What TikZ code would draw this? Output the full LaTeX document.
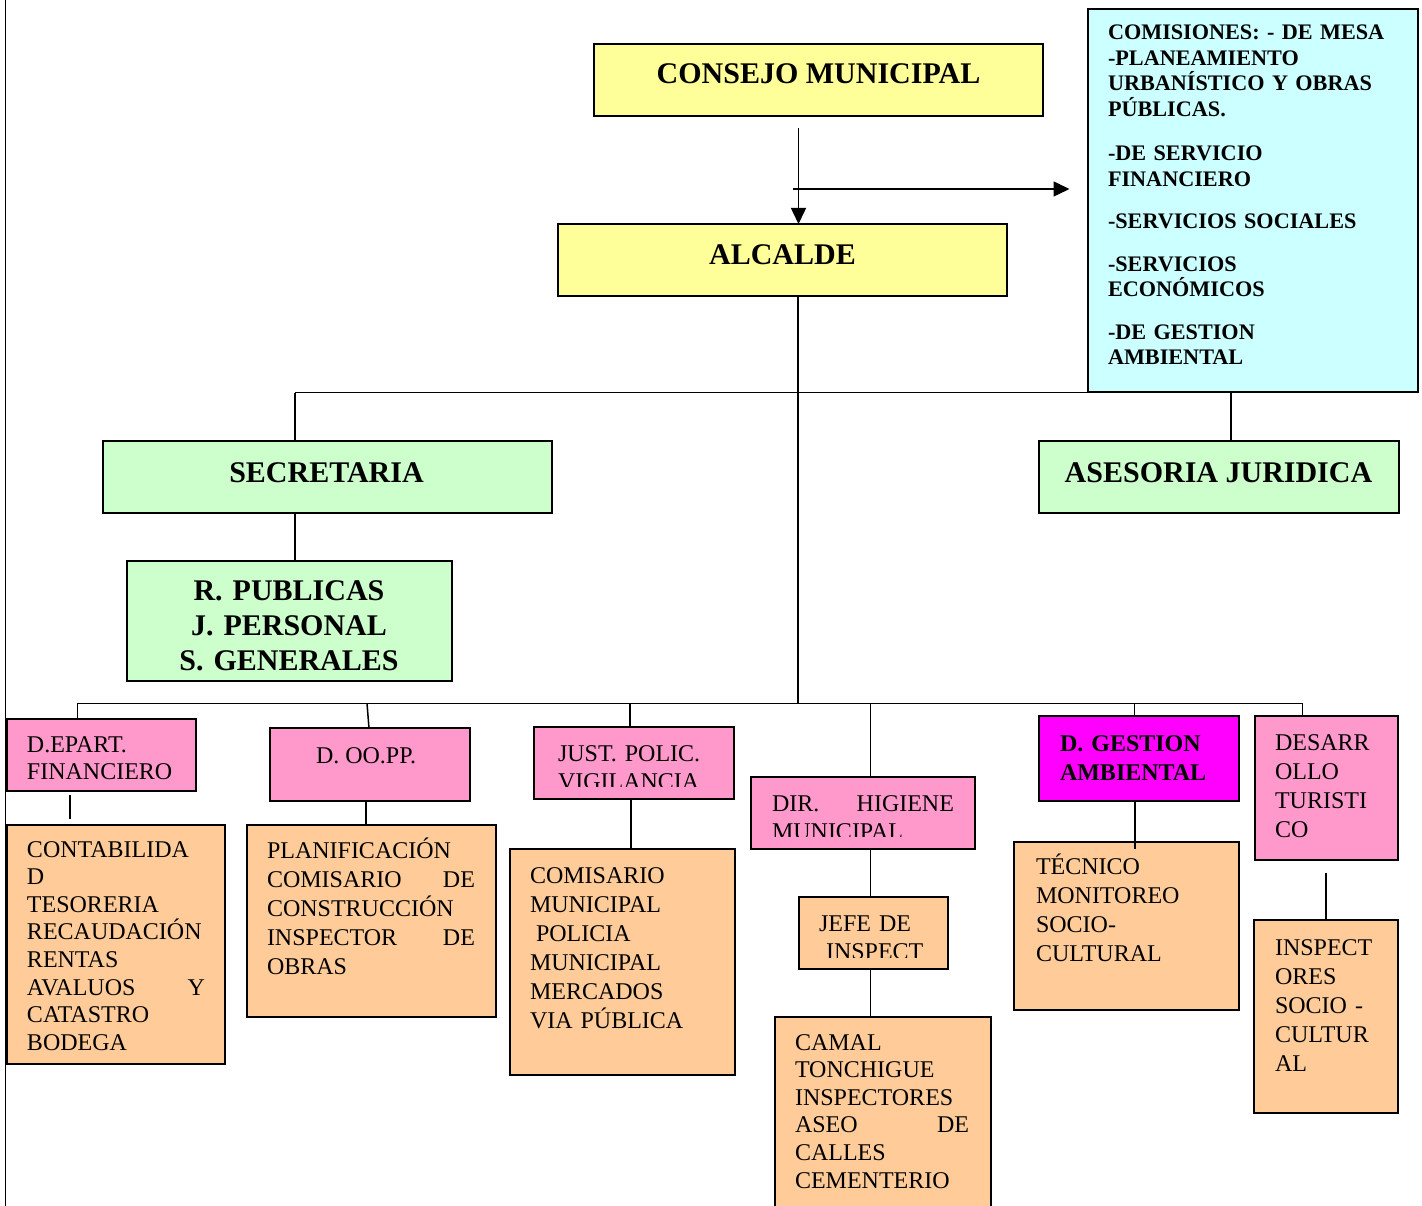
\documentclass[tikz,border=0pt]{standalone}
\usepackage{fontspec}
\setmainfont{Liberation Serif}
\usetikzlibrary{arrows.meta}
\definecolor{cyel}{HTML}{FFFF99}
\definecolor{ccya}{HTML}{CCFFFF}
\definecolor{cgrn}{HTML}{CCFFCC}
\definecolor{cpnk}{HTML}{FF99CC}
\definecolor{cmag}{HTML}{FF00FF}
\definecolor{corg}{HTML}{FFCC99}
\newcommand{\fntHd}{\fontsize{30}{35}\bfseries\selectfont}
\newcommand{\fntCom}{\fontsize{22.2}{25.5}\bfseries\selectfont}
\newcommand{\fntA}{\fontsize{24}{27.6}\selectfont}
\newcommand{\fntB}{\fontsize{24}{29}\selectfont}
\newcommand{\fntC}{\fontsize{24}{28}\selectfont}
\newcommand{\fntGB}{\fontsize{24}{29}\bfseries\selectfont}
\newcommand{\mkbox}[6]{\node[orgbox, fill=#2, minimum width={#5pt-#3pt}, minimum height={#6pt-#4pt}] (#1) at (#3,#4) {};}
\tikzset{
  orgbox/.style={draw=black, line width=2pt, anchor=north west, inner sep=0pt, outer sep=0pt},
  txt/.style={inner sep=0pt, outer sep=0pt, anchor=base west, align=left},
  ctxt/.style={inner sep=0pt, outer sep=0pt, anchor=base, align=center},
  conn/.style={line width=1.5pt, draw=black},
  arr/.style={conn, -{Triangle[length=16pt,width=15pt]}},
}
\begin{document}
\begin{tikzpicture}[x=1pt,y=-1pt]
\useasboundingbox (0,0) rectangle (1422,1206);
% page border line
\coordinate (pl1) at (5.3,0); \coordinate (pl2) at (5.3,1206);
\draw[conn] (pl1) -- (pl2);

% boxes
\mkbox{consejo}{cyel}{594}{44}{1043}{116.5}
\mkbox{alcalde}{cyel}{558}{224}{1007}{296.5}
\mkbox{comis}{ccya}{1088}{9}{1418}{391.5}
\mkbox{secre}{cgrn}{102.5}{441}{552}{513}
\mkbox{ases}{cgrn}{1038.5}{441}{1399}{513}
\mkbox{rpub}{cgrn}{126.5}{561}{452}{681}
\mkbox{dep1}{cpnk}{6.5}{719}{195.5}{790.7}
\mkbox{doo}{cpnk}{270}{728.3}{470}{800.5}
\mkbox{just}{cpnk}{534}{726.7}{734}{798.5}
\mkbox{dir}{cpnk}{751}{777.3}{975}{849}
\mkbox{gest}{cmag}{1039.3}{716}{1239}{800.5}
\mkbox{desa}{cpnk}{1255}{716}{1398.3}{860}
\mkbox{conta}{corg}{6.7}{825}{225.3}{1064.3}
\mkbox{plan}{corg}{246.7}{825}{496}{1016.7}
\mkbox{comisario}{corg}{510}{848.7}{735.3}{1075}
\mkbox{jefe}{corg}{798.7}{896.7}{948.3}{968.7}
\mkbox{camal}{corg}{775}{1017.3}{990.7}{1216}
\mkbox{tecnico}{corg}{1014.3}{841.7}{1239.3}{1010}
\mkbox{insp}{corg}{1254}{920}{1398.3}{1112.7}

% texts
\node[ctxt, font=\fntHd] (tconsejo) at (818.5,84) {CONSEJO MUNICIPAL};
\node[ctxt, font=\fntHd] (talcalde) at (782.5,265) {ALCALDE};
\node[ctxt, font=\fntHd] (tsecre) at (326.5,482) {SECRETARIA};
\node[ctxt, font=\fntHd] (tases) at (1218.5,482) {ASESORIA JURIDICA};
\node[ctxt, font=\fntHd, text width=300pt] (trpub) at (289,600) {R. PUBLICAS\\J. PERSONAL\\S. GENERALES};
\node[txt, font=\fntCom, text width=305pt] (tcomis) at (1108,40) {COMISIONES: - DE MESA\\-PLANEAMIENTO\\URBANÍSTICO Y OBRAS\\PÚBLICAS.\\[19pt]-DE SERVICIO\\FINANCIERO\\[17pt]-SERVICIOS SOCIALES\\[17pt]-SERVICIOS\\ECONÓMICOS\\[17pt]-DE GESTION\\AMBIENTAL};
\node[txt, font=\fntA, text width=165pt] (tdep1) at (27,752) {D.EPART.\\FINANCIERO};
\node[txt, font=\fntA, text width=178pt] (tconta) at (27,857) {CONTABILIDA\\D\\TESORERIA\\RECAUDACIÓN\\RENTAS\\AVALUOS\hfill Y\\CATASTRO\\BODEGA};
\node[txt, font=\fntA] (tdoo) at (316,763) {D. OO.PP.};
\node[txt, font=\fntB, text width=208pt] (tplan) at (267,858) {PLANIFICACIÓN\\COMISARIO\hfill DE\\CONSTRUCCIÓN\\INSPECTOR\hfill DE\\OBRAS};
\begin{scope}
  \clip (just.north west) rectangle ([yshift=12pt]just.south east);
  \node[txt, font=\fntC, text width=180pt] (tjust) at (558,761) {JUST. POLIC.\\VIGILANCIA};
\end{scope}
\node[txt, font=\fntB, text width=200pt] (tcomisario) at (530,883) {COMISARIO\\MUNICIPAL\\\hspace*{6pt}POLICIA\\MUNICIPAL\\MERCADOS\\VIA PÚBLICA};
\begin{scope}
  \clip (dir.north west) rectangle ([yshift=12.5pt]dir.south east);
  \node[txt, font=\fntC, text width=182pt] (tdir) at (772,811) {DIR.\hfill HIGIENE\\MUNICIPAL};
\end{scope}
\begin{scope}
  \clip (jefe.north west) rectangle ([yshift=11.5pt]jefe.south east);
  \node[txt, font=\fntC, text width=125pt] (tjefe) at (819,931) {JEFE DE\\\hspace*{7pt}INSPECT};
\end{scope}
\node[txt, font=\fntA, text width=174pt] (tcamal) at (795,1050) {CAMAL\\TONCHIGUE\\INSPECTORES\\ASEO\hfill DE\\CALLES\\CEMENTERIO};
\node[txt, font=\fntGB, text width=175pt] (tgest) at (1060,751) {D. GESTION\\AMBIENTAL};
\node[txt, font=\fntB, text width=195pt] (ttecnico) at (1036,874) {TÉCNICO\\MONITOREO\\SOCIO-\\CULTURAL};
\node[txt, font=\fntB, text width=120pt] (tdesa) at (1275,750) {DESARR\\OLLO\\TURISTI\\CO};
\node[txt, font=\fntB, text width=120pt] (tinsp) at (1275,955) {INSPECT\\ORES\\SOCIO -\\CULTUR\\AL};

% connectors
\coordinate (a1) at (798.5,128);
\coordinate (a2) at (793,189);
\coordinate (a3) at (1069.5,189);
\draw[arr] (a1) -- (alcalde.north -| a1);
\draw[arr] (a2) -- (a3);
\coordinate (bus2c) at (798,703.3);
\draw[conn] (alcalde.south -| bus2c) -- (bus2c);
\coordinate (b1l) at (295,392.5);
\coordinate (b1r) at (1231,392.5);
\draw[conn] (b1l) -- (b1r);
\draw[conn] (b1l) -- (secre.north -| b1l);
\draw[conn] (b1r) -- (ases.north -| b1r);
\draw[conn] (secre.south -| b1l) -- (rpub.north -| b1l);
\coordinate (b2l) at (77.7,703.3);
\coordinate (b2r) at (1302.3,703.3);
\draw[conn] (b2l) -- (b2r);
\draw[conn] (b2l) -- (dep1.north -| b2l);
\coordinate (d2) at (367,703.3);
\draw[conn] (d2) -- ([xshift=2pt]doo.north -| d2);
\coordinate (d3) at (630,703.3);
\draw[conn] (d3) -- (just.north -| d3);
\coordinate (d4) at (870.7,703.3);
\draw[conn] (d4) -- (dir.north -| d4);
\coordinate (d5) at (1134.3,703.3);
\draw[conn] (d5) -- (gest.north -| d5);
\draw[conn] (b2r) -- (desa.north -| b2r);
\coordinate (c1t) at (70,795);
\coordinate (c1b) at (70,819);
\draw[conn] (c1t) -- (c1b);
\coordinate (c2) at (366,812);
\draw[conn] (doo.south -| c2) -- (plan.north -| c2);
\coordinate (c3) at (631,820);
\draw[conn] (just.south -| c3) -- (comisario.north -| c3);
\draw[conn] (dir.south -| d4) -- (jefe.north -| d4);
\draw[conn] (jefe.south -| d4) -- (camal.north -| d4);
\coordinate (c5) at (1135,849);
\draw[conn] (gest.south -| c5) -- (c5);
\coordinate (c6) at (1326,872.7);
\draw[conn] (c6) -- (insp.north -| c6);
\end{tikzpicture}
\end{document}
